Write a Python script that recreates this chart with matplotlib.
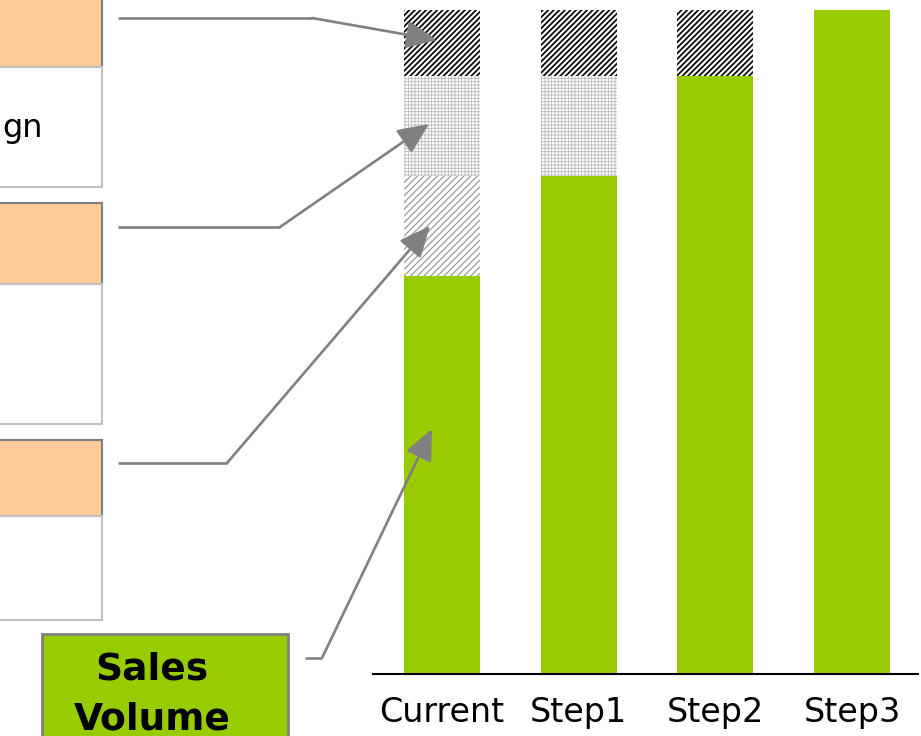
import numpy as np
import matplotlib.pyplot as plt
from matplotlib.patches import Rectangle

# stacked values per scenario (share of total volume)
categories = ['Current', 'Step1', 'Step2', 'Step3']
sales = [60, 75, 90, 100]
light_diag = [15, 0, 0, 0]
grid = [15, 15, 0, 0]
dark_diag = [10, 10, 10, 0]

GREEN = '#99CC00'
ORANGE = '#FFCC99'
GREY = '#808080'

fig = plt.figure(figsize=(9.21, 7.36), dpi=100)
W, H = 921.0, 736.0

# bar chart area
ax = fig.add_axes([373 / W, 62 / H, (918 - 373) / W, 664 / H])
x = np.arange(len(categories))
width = 0.556

ax.bar(x, sales, width, color=GREEN, linewidth=0)
bottom = np.array(sales, dtype=float)

plt.rcParams['hatch.linewidth'] = 0.9
ax.bar(x, light_diag, width, bottom=bottom, facecolor='white',
       edgecolor='#999999', hatch='/////', linewidth=0)
bottom += light_diag

plt.rcParams['hatch.linewidth'] = 0.6
ax.bar(x, grid, width, bottom=bottom, facecolor='white',
       edgecolor='#BBBBBB', hatch='+++++', linewidth=0)
bottom += grid

plt.rcParams['hatch.linewidth'] = 1.6
ax.bar(x, dark_diag, width, bottom=bottom, facecolor='black',
       edgecolor='white', hatch='//////', linewidth=0)

ax.set_xlim(-0.505, 3.482)
ax.set_ylim(0, 100)
for s in ['top', 'right', 'left']:
    ax.spines[s].set_visible(False)
ax.spines['bottom'].set_linewidth(1.5)
ax.set_yticks([])
ax.set_xticks(x)
ax.set_xticklabels(categories, fontsize=24)
ax.tick_params(axis='x', length=0, pad=16)

# callout boxes and connectors, drawn in pixel space
ov = fig.add_axes([0, 0, 1, 1], zorder=5)
ov.set_xlim(0, W)
ov.set_ylim(H, 0)
ov.axis('off')
ov.patch.set_alpha(0)

boxes = [(-5, -5, 72, 67, 187), (-5, 203, 81, 284, 424), (-5, 440, 76, 516, 620)]
for x0, y0, h, y1, y2 in boxes:
    ov.add_patch(Rectangle((x0, y0), 102 - x0, h, facecolor=ORANGE,
                           edgecolor=GREY, lw=1.5))
    ov.add_patch(Rectangle((x0, y1), 102 - x0, y2 - y1, facecolor='white',
                           edgecolor='#C0C0C0', lw=1.5))

ov.text(2, 137, 'gn', fontsize=23, ha='left', va='baseline')

ov.add_patch(Rectangle((42, 634), 246, 120, facecolor=GREEN,
                       edgecolor=GREY, lw=2))
ov.text(152, 679, 'Sales', fontsize=27, fontweight='bold',
        ha='center', va='baseline')
ov.text(152, 729, 'Volume', fontsize=27, fontweight='bold',
        ha='center', va='baseline')

connectors = [
    ((118, 18), (312, 18), (437, 40)),
    ((118, 227), (280, 227), (429, 124)),
    ((118, 463), (227, 463), (430, 226)),
    ((305, 658), (322, 658), (432, 429)),
]
for start, bend, tip in connectors:
    ov.plot([start[0], bend[0]], [start[1], bend[1]], color=GREY, lw=1.9,
            solid_capstyle='butt')
    ov.annotate('', xy=tip, xytext=bend,
                arrowprops=dict(arrowstyle='-|>,head_length=1.9,head_width=0.85',
                                color=GREY, lw=1.9, shrinkA=0, shrinkB=0))

fig.savefig('out.png', dpi=100)
